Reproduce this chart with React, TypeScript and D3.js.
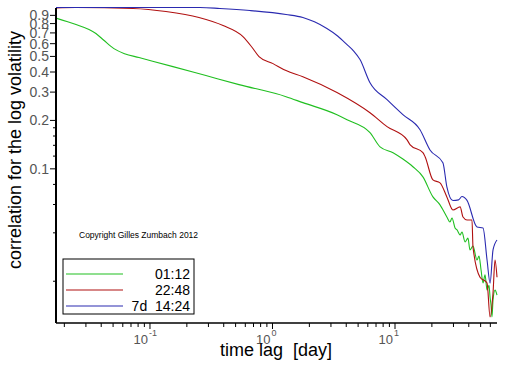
import React from 'react';
import * as d3 from 'd3';

// lag in days, correlation of log volatility
const greenLag = [0.0171, 0.0249, 0.0318, 0.0362, 0.042, 0.0508, 0.062, 0.0813, 0.154, 0.286, 0.533, 1.29, 1.77, 3.36, 4.06, 6.25, 7.55, 9.64, 11.6, 14.0, 16.9, 20.4, 23.3, 26.5, 28.1, 29.2, 30.9, 32.1, 34.0, 35.2, 37.3, 39.4, 40.9, 43.3, 46.7, 48.5, 50.4, 52.3, 54.3, 56.4, 58.5, 59.7, 60.8, 61.9, 63.1, 65.5, 68];
const greenCorr = [0.865, 0.789, 0.735, 0.694, 0.63, 0.559, 0.52, 0.492, 0.432, 0.38, 0.334, 0.281, 0.258, 0.217, 0.202, 0.168, 0.137, 0.126, 0.115, 0.103, 0.0891, 0.0669, 0.0597, 0.0502, 0.0467, 0.0495, 0.0429, 0.0417, 0.0388, 0.0405, 0.0351, 0.0371, 0.0313, 0.0331, 0.0271, 0.0287, 0.0235, 0.0195, 0.0219, 0.0176, 0.0189, 0.0159, 0.0142, 0.012, 0.0153, 0.0176, 0.0164];

const redLag = [0.0171, 0.0249, 0.0726, 0.135, 0.251, 0.395, 0.574, 0.68, 0.776, 1.01, 1.29, 1.77, 3.36, 6.25, 8.61, 12.5, 13.3, 16.9, 17.6, 20.4, 23.3, 26.5, 29.7, 34.0, 35.9, 38.7, 42.5, 43.3, 49.4, 56.4, 59.7, 63.1, 65.5, 68];
const redCorr = [1.0, 1.007, 0.993, 0.951, 0.873, 0.778, 0.664, 0.57, 0.499, 0.451, 0.408, 0.374, 0.298, 0.223, 0.183, 0.152, 0.141, 0.126, 0.119, 0.0853, 0.0818, 0.0669, 0.0555, 0.058, 0.0502, 0.0481, 0.0481, 0.0327, 0.0212, 0.0195, 0.012, 0.0169, 0.0271, 0.0212];

const blueLag = [0.0171, 0.256, 0.372, 0.655, 1.29, 1.77, 2.2, 2.78, 3.4, 4.06, 4.6, 5.18, 6.25, 8.61, 11.6, 16.0, 19.3, 24.6, 26.5, 29.7, 33.0, 35.2, 38.7, 46.7, 52.3, 56.4, 59.7, 63.1, 68];
const blueCorr = [1.007, 1.007, 0.993, 0.964, 0.911, 0.873, 0.82, 0.745, 0.67, 0.592, 0.54, 0.478, 0.343, 0.269, 0.217, 0.175, 0.131, 0.109, 0.0773, 0.0636, 0.0641, 0.0673, 0.0636, 0.0435, 0.0429, 0.0271, 0.0195, 0.0313, 0.0361];

const seriesNames = ['01:12', '22:48', '7d  14:24'];
const seriesColors = ['#20bf20', '#b01010', '#2a2ab0'];

const yLabelTicks = [0.1, 0.2, 0.3, 0.4, 0.5, 0.6, 0.7, 0.8, 0.9];
const yMinorTicks = [0.02, 0.04, 0.06, 0.08, 0.12, 0.14, 0.16, 0.18];
const xMajorTicks = [0.1, 1, 10];
const xMajorLabels = ['-1', '0', '1'];

export default function App() {
  const left = 56, right = 497, top = 8, bottom = 323;
  const x = d3.scaleLog().domain([0.0171, 68]).range([left, right]);
  const y = d3.scaleLog().domain([0.011, 1.0]).range([bottom, top]);

  const xMinor: number[] = [];
  [0.01, 0.1, 1, 10].forEach(d => {
    for (let k = 2; k <= 9; k++) {
      const v = d * k;
      if (v >= 0.0171 && v <= 68) xMinor.push(v);
    }
  });

  const line = d3.line<[number, number]>().x(d => x(d[0])).y(d => y(d[1])).curve(d3.curveMonotoneX);
  const series = [
    greenLag.map((l, i) => [l, greenCorr[i]] as [number, number]),
    redLag.map((l, i) => [l, redCorr[i]] as [number, number]),
    blueLag.map((l, i) => [l, blueCorr[i]] as [number, number]),
  ];

  const font = 'Arial, "Liberation Sans", Helvetica, sans-serif';

  return (
    <svg width={512} height={366} style={{ position: 'absolute', left: 0, top: 0, background: '#fff' }} fontFamily={font}>
      <defs>
        <clipPath id="plot">
          <rect x={left} y={0} width={right - left + 2} height={bottom} />
        </clipPath>
      </defs>
      <g clipPath="url(#plot)">
        {series.map((s, i) => (
          <path key={i} d={line(s) || ''} fill="none" stroke={seriesColors[i]} strokeWidth={1.1} />
        ))}
      </g>

      {/* y axis */}
      <line x1={left} x2={left} y1={top} y2={bottom} stroke="#000" strokeWidth={2} />
      {yLabelTicks.map(t => (
        <g key={t}>
          <line x1={left - 6} x2={left} y1={y(t)} y2={y(t)} stroke="#000" />
          <text x={left - 7} y={y(t) + 5} textAnchor="end" fontSize={14} fill="#555">{t.toString()}</text>
        </g>
      ))}
      {yMinorTicks.map(t => (
        <line key={t} x1={left - 3} x2={left} y1={y(t)} y2={y(t)} stroke="#000" />
      ))}

      {/* x axis */}
      <line x1={left} x2={right} y1={bottom} y2={bottom} stroke="#000" strokeWidth={1.5} />
      {xMinor.map(t => (
        <line key={t} x1={x(t)} x2={x(t)} y1={bottom} y2={bottom + 4} stroke="#000" />
      ))}
      {xMajorTicks.map((t, i) => (
        <g key={t}>
          <line x1={x(t)} x2={x(t)} y1={bottom} y2={bottom + 6} stroke="#000" />
          <text x={x(t) - 2} y={344} textAnchor="end" fontSize={13} fill="#555">10</text>
          <text x={x(t) - 1} y={336} textAnchor="start" fontSize={9} fill="#555">{xMajorLabels[i]}</text>
        </g>
      ))}

      <text x={276} y={356} textAnchor="middle" fontSize={18} fill="#000" style={{ whiteSpace: 'pre' }}>time lag  [day]</text>
      <text transform="translate(21,150) rotate(-90)" textAnchor="middle" fontSize={18} fill="#000">correlation for the log volatility</text>

      <text x={79} y={238} fontSize={8.5} fill="#000">Copyright Gilles Zumbach 2012</text>

      {/* legend */}
      <rect x={63} y={259} width={131} height={55} fill="#fff" stroke="#000" />
      {seriesNames.map((n, i) => (
        <g key={n}>
          <line x1={66} x2={123} y1={274 + i * 16} y2={274 + i * 16} stroke={seriesColors[i]} strokeWidth={1.1} />
          <text x={190} y={279 + i * 16} textAnchor="end" fontSize={14} fill="#000" style={{ whiteSpace: 'pre' }}>{n}</text>
        </g>
      ))}
    </svg>
  );
}
